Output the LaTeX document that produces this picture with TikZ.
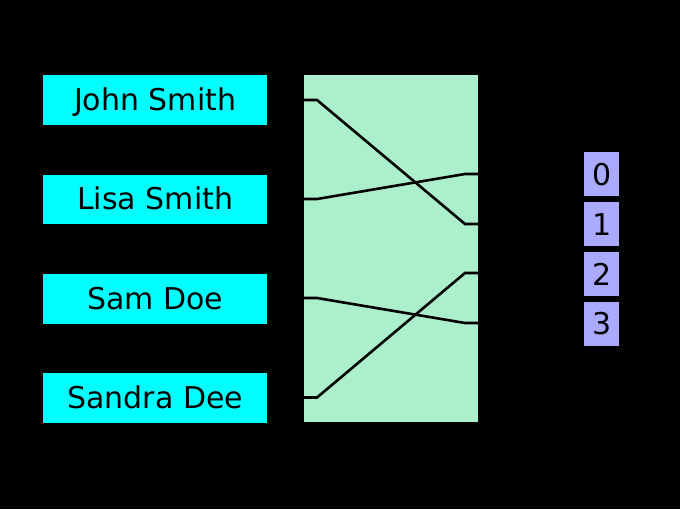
\documentclass[tikz,border=0pt]{standalone}
\usepackage{fontspec}
\setmainfont{DejaVu Sans}
\usetikzlibrary{calc}
\definecolor{keycol}{HTML}{00FFFF}
\definecolor{tablecol}{HTML}{ABEFCD}
\definecolor{bucketcol}{HTML}{AAAAFF}
\begin{document}
\begin{tikzpicture}[x=1pt,y=-1pt,
  keybox/.style={fill=keycol,draw=none,minimum width=224pt,minimum height=49.5pt,inner sep=0pt,text height=22pt,text depth=1.5pt,font=\fontsize{30}{34}\selectfont,anchor=north west},
  bucketbox/.style={fill=bucketcol,draw=none,minimum width=35pt,minimum height=44pt,inner sep=0pt,text height=22pt,text depth=0pt,font=\fontsize{30}{34}\selectfont,anchor=north west},
  link/.style={line width=2.6pt,line join=miter}]
\fill[black] (0,0) rectangle (680,509);
\useasboundingbox (0,0) rectangle (680,509);
\node[keybox] (john) at (43,75) {John Smith};
\node[keybox] (lisa) at (43,174.5) {Lisa Smith};
\node[keybox] (sam) at (43,274) {Sam Doe};
\node[keybox] (sandra) at (43,373) {Sandra Dee};
\node[fill=tablecol,draw=none,minimum width=174pt,minimum height=347pt,inner sep=0pt,anchor=north west] (table) at (304,75) {};
\node[bucketbox] (b0) at (584,152) {0};
\node[bucketbox] (b1) at (584,202) {1};
\node[bucketbox] (b2) at (584,252) {2};
\node[bucketbox] (b3) at (584,301.5) {3};
\coordinate (l0) at (304,100);
\coordinate (l1) at (304,199);
\coordinate (l2) at (304,298);
\coordinate (l3) at (304,397.5);
\coordinate (r0) at (478,174);
\coordinate (r1) at (478,224);
\coordinate (r2) at (478,273);
\coordinate (r3) at (478,323);
\draw[link] (l0) -- ++(13,0) -- ($(r1)+(-13,0)$) -- (r1);
\draw[link] (l1) -- ++(13,0) -- ($(r0)+(-13,0)$) -- (r0);
\draw[link] (l2) -- ++(13,0) -- ($(r3)+(-13,0)$) -- (r3);
\draw[link] (l3) -- ++(13,0) -- ($(r2)+(-13,0)$) -- (r2);
\end{tikzpicture}
\end{document}
